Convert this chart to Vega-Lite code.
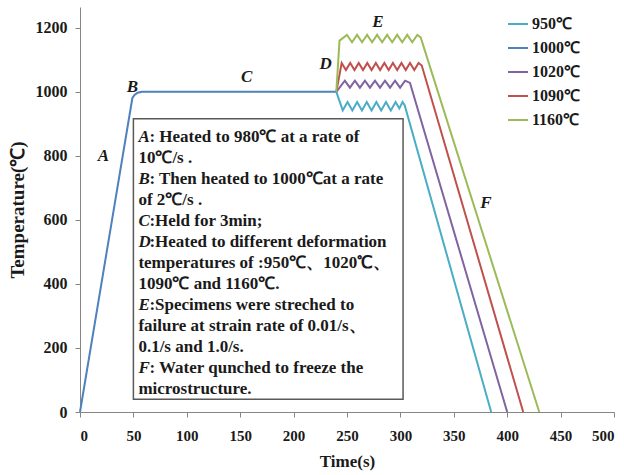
{
  "$schema": "https://vega.github.io/schema/vega-lite/v6.json",
  "width": 534,
  "height": 405,
  "autosize": {"type": "none"},
  "padding": {"left": 80, "top": 7, "right": 10, "bottom": 63},
  "background": "white",
  "config": {
    "view": {"stroke": null},
    "font": "Liberation Serif"
  },
  "datasets": {
    "series": [
      {"series": "1000℃", "t": 0, "temp": 0},
      {"series": "1000℃", "t": 49, "temp": 980},
      {"series": "1000℃", "t": 51, "temp": 990},
      {"series": "1000℃", "t": 54, "temp": 997},
      {"series": "1000℃", "t": 58, "temp": 1000},
      {"series": "1000℃", "t": 240, "temp": 1000},

      {"series": "950℃", "t": 240, "temp": 1000},
      {"series": "950℃", "t": 246, "temp": 942},
      {"series": "950℃", "t": 250.5, "temp": 968},
      {"series": "950℃", "t": 255, "temp": 942},
      {"series": "950℃", "t": 259.5, "temp": 968},
      {"series": "950℃", "t": 264, "temp": 942},
      {"series": "950℃", "t": 268.5, "temp": 968},
      {"series": "950℃", "t": 273, "temp": 942},
      {"series": "950℃", "t": 277.5, "temp": 968},
      {"series": "950℃", "t": 282, "temp": 942},
      {"series": "950℃", "t": 286.5, "temp": 968},
      {"series": "950℃", "t": 291, "temp": 942},
      {"series": "950℃", "t": 295.5, "temp": 968},
      {"series": "950℃", "t": 299, "temp": 948},
      {"series": "950℃", "t": 302, "temp": 968},
      {"series": "950℃", "t": 304, "temp": 958},
      {"series": "950℃", "t": 385, "temp": 0},

      {"series": "1020℃", "t": 240, "temp": 1000},
      {"series": "1020℃", "t": 248, "temp": 1035},
      {"series": "1020℃", "t": 252.7, "temp": 1013},
      {"series": "1020℃", "t": 257.4, "temp": 1035},
      {"series": "1020℃", "t": 262.1, "temp": 1013},
      {"series": "1020℃", "t": 266.8, "temp": 1035},
      {"series": "1020℃", "t": 271.5, "temp": 1013},
      {"series": "1020℃", "t": 276.2, "temp": 1035},
      {"series": "1020℃", "t": 280.9, "temp": 1013},
      {"series": "1020℃", "t": 285.6, "temp": 1035},
      {"series": "1020℃", "t": 290.3, "temp": 1013},
      {"series": "1020℃", "t": 295, "temp": 1035},
      {"series": "1020℃", "t": 299.7, "temp": 1013},
      {"series": "1020℃", "t": 304.4, "temp": 1035},
      {"series": "1020℃", "t": 309, "temp": 1028},
      {"series": "1020℃", "t": 400, "temp": 0},

      {"series": "1090℃", "t": 240, "temp": 1000},
      {"series": "1090℃", "t": 245, "temp": 1090},
      {"series": "1090℃", "t": 249, "temp": 1068},
      {"series": "1090℃", "t": 253, "temp": 1090},
      {"series": "1090℃", "t": 257, "temp": 1068},
      {"series": "1090℃", "t": 261, "temp": 1090},
      {"series": "1090℃", "t": 265, "temp": 1068},
      {"series": "1090℃", "t": 269, "temp": 1090},
      {"series": "1090℃", "t": 273, "temp": 1068},
      {"series": "1090℃", "t": 277, "temp": 1090},
      {"series": "1090℃", "t": 281, "temp": 1068},
      {"series": "1090℃", "t": 285, "temp": 1090},
      {"series": "1090℃", "t": 289, "temp": 1068},
      {"series": "1090℃", "t": 293, "temp": 1090},
      {"series": "1090℃", "t": 297, "temp": 1068},
      {"series": "1090℃", "t": 301, "temp": 1090},
      {"series": "1090℃", "t": 305, "temp": 1068},
      {"series": "1090℃", "t": 309, "temp": 1090},
      {"series": "1090℃", "t": 313, "temp": 1068},
      {"series": "1090℃", "t": 317, "temp": 1090},
      {"series": "1090℃", "t": 320, "temp": 1082},
      {"series": "1090℃", "t": 415, "temp": 0},

      {"series": "1160℃", "t": 240, "temp": 1000},
      {"series": "1160℃", "t": 243, "temp": 1160},
      {"series": "1160℃", "t": 250, "temp": 1178},
      {"series": "1160℃", "t": 254.7, "temp": 1155},
      {"series": "1160℃", "t": 259.4, "temp": 1178},
      {"series": "1160℃", "t": 264.1, "temp": 1155},
      {"series": "1160℃", "t": 268.8, "temp": 1178},
      {"series": "1160℃", "t": 273.5, "temp": 1155},
      {"series": "1160℃", "t": 278.2, "temp": 1178},
      {"series": "1160℃", "t": 282.9, "temp": 1155},
      {"series": "1160℃", "t": 287.6, "temp": 1178},
      {"series": "1160℃", "t": 292.3, "temp": 1155},
      {"series": "1160℃", "t": 297, "temp": 1178},
      {"series": "1160℃", "t": 301.7, "temp": 1155},
      {"series": "1160℃", "t": 306.4, "temp": 1178},
      {"series": "1160℃", "t": 311.1, "temp": 1155},
      {"series": "1160℃", "t": 315.8, "temp": 1178},
      {"series": "1160℃", "t": 319, "temp": 1170},
      {"series": "1160℃", "t": 430, "temp": 0}
    ],
    "box": [
      {"t": 50, "t2": 302.5, "temp": 40, "temp2": 916,
       "letters": "A\n\u200b\nB\n\u200b\nC\nD\n\u200b\n\u200b\nE\n\u200b\n\u200b\nF\n\u200b",
       "rest": ": Heated to 980℃ at a rate of\n\u200b\n: Then heated to 1000℃at a rate\n\u200b\n:Held for 3min;\n:Heated to different deformation\n\u200b\n\u200b\n:Specimens were streched to\n\u200b\n\u200b\n: Water qunched to freeze the\n\u200b",
       "plain": "\u200b\n10℃/s .\n\u200b\nof 2℃/s .\n\u200b\n\u200b\ntemperatures of :950℃、1020℃、\n1090℃ and 1160℃.\n\u200b\nfailure at strain rate of 0.01/s、\n0.1/s and 1.0/s.\n\u200b\nmicrostructure."}
    ],
    "letters": [
      {"label": "A", "t": 22, "temp": 800},
      {"label": "B", "t": 49, "temp": 1016},
      {"label": "C", "t": 156, "temp": 1047},
      {"label": "D", "t": 230, "temp": 1087},
      {"label": "E", "t": 279, "temp": 1219},
      {"label": "F", "t": 380, "temp": 653}
    ]
  },
  "layer": [
    {
      "data": {"name": "box"},
      "mark": {"type": "rect", "fill": "white", "stroke": "#595959", "strokeWidth": 1.5},
      "encoding": {
        "x": {"field": "t", "type": "quantitative"},
        "x2": {"field": "t2"},
        "y": {"field": "temp", "type": "quantitative"},
        "y2": {"field": "temp2"}
      }
    },
    {
      "data": {"name": "series"},
      "mark": {"type": "line", "strokeWidth": 2},
      "encoding": {
        "x": {
          "field": "t", "type": "quantitative",
          "scale": {"domain": [0, 500], "nice": false},
          "axis": {
            "title": "Time(s)", "values": [0,50,100,150,200,250,300,350,400,450,500], "format": "d",
            "grid": false, "domainColor": "#868686", "tickColor": "#868686", "tickSize": 5,
            "labelFont": "Liberation Serif", "labelFontWeight": "bold", "labelFontSize": 15, "labelColor": "#1a1a1a",
            "labelPadding": 11,
            "titleFont": "Liberation Serif", "titleFontWeight": "bold", "titleFontSize": 17, "titleColor": "#1a1a1a",
            "titlePadding": 10
          }
        },
        "y": {
          "field": "temp", "type": "quantitative",
          "scale": {"domain": [0, 1265], "nice": false},
          "axis": {
            "title": "Temperature(℃)", "values": [0,200,400,600,800,1000,1200], "format": "d",
            "grid": false, "domainColor": "#868686", "tickColor": "#868686", "tickSize": 5,
            "labelFont": "Liberation Serif", "labelFontWeight": "bold", "labelFontSize": 16, "labelColor": "#1a1a1a",
            "labelPadding": 8,
            "titleFont": "Liberation Serif", "titleFontWeight": "bold", "titleFontSize": 19, "titleColor": "#1a1a1a",
            "titlePadding": 8
          }
        },
        "color": {
          "field": "series", "type": "nominal",
          "scale": {
            "domain": ["950℃", "1000℃", "1020℃", "1090℃", "1160℃"],
            "range": ["#4bacc6", "#4f81bd", "#8064a2", "#c0504d", "#9bbb59"]
          },
          "legend": {
            "title": null, "orient": "none", "legendX": 427, "legendY": 6,
            "symbolType": "stroke", "symbolSize": 400, "symbolStrokeWidth": 2,
            "labelFont": "Liberation Serif", "labelFontWeight": "bold", "labelFontSize": 16, "labelColor": "#1a1a1a",
            "labelOffset": 3, "rowPadding": 5
          }
        }
      }
    },
    {
      "data": {"name": "box"},
      "mark": {"type": "text", "align": "left", "baseline": "top", "dx": 5, "dy": 10, "lineBreak": "\n", "lineHeight": 21,
               "font": "Liberation Serif", "fontWeight": "bold", "fontStyle": "italic", "fontSize": 17, "color": "#1a1a1a"},
      "encoding": {
        "x": {"field": "t", "type": "quantitative"},
        "y": {"field": "temp2", "type": "quantitative"},
        "text": {"field": "letters"}
      }
    },
    {
      "data": {"name": "box"},
      "mark": {"type": "text", "align": "left", "baseline": "top", "dx": 16, "dy": 10, "lineBreak": "\n", "lineHeight": 21,
               "font": "Liberation Serif", "fontWeight": "bold", "fontSize": 17, "color": "#1a1a1a"},
      "encoding": {
        "x": {"field": "t", "type": "quantitative"},
        "y": {"field": "temp2", "type": "quantitative"},
        "text": {"field": "rest"}
      }
    },
    {
      "data": {"name": "box"},
      "mark": {"type": "text", "align": "left", "baseline": "top", "dx": 5, "dy": 10, "lineBreak": "\n", "lineHeight": 21,
               "font": "Liberation Serif", "fontWeight": "bold", "fontSize": 17, "color": "#1a1a1a"},
      "encoding": {
        "x": {"field": "t", "type": "quantitative"},
        "y": {"field": "temp2", "type": "quantitative"},
        "text": {"field": "plain"}
      }
    },
    {
      "data": {"name": "letters"},
      "mark": {"type": "text", "font": "Liberation Serif", "fontWeight": "bold", "fontStyle": "italic", "fontSize": 17, "color": "#1a1a1a"},
      "encoding": {
        "x": {"field": "t", "type": "quantitative"},
        "y": {"field": "temp", "type": "quantitative"},
        "text": {"field": "label"}
      }
    }
  ]
}
